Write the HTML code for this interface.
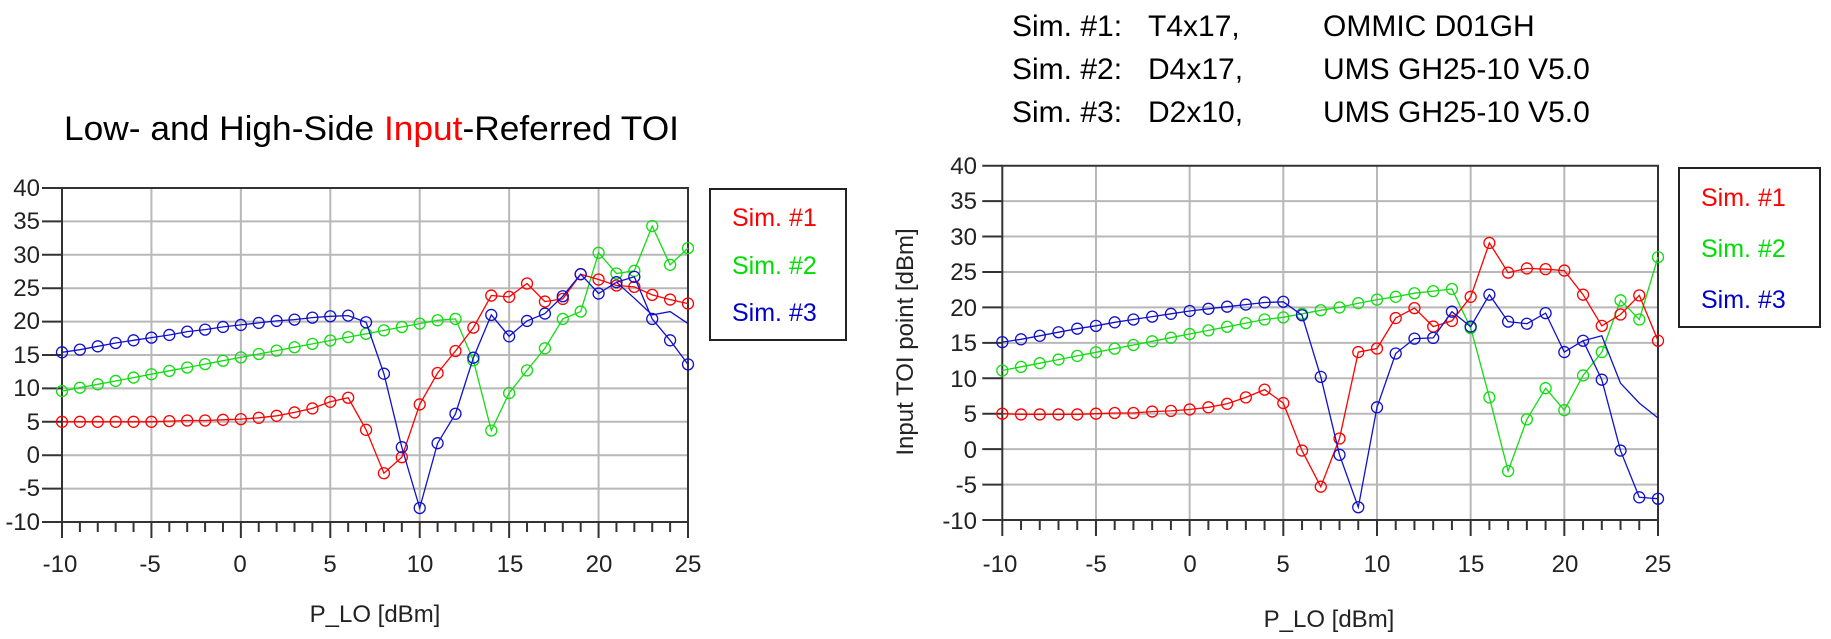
<!DOCTYPE html>
<html><head><meta charset="utf-8"><style>
html,body{margin:0;padding:0;background:#fff;}
svg{display:block;font-family:"Liberation Sans",Arial,sans-serif;}
</style></head><body>
<svg id="s" width="1831" height="639" viewBox="0 0 1831 639" xmlns="http://www.w3.org/2000/svg">
<rect width="1831" height="639" fill="#fff"/>
<g id="g"></g>
<text x="64" y="140" font-size="34" fill="#000" textLength="615" lengthAdjust="spacingAndGlyphs">Low- and High-Side <tspan fill="#f00">Input</tspan>-Referred TOI</text>
<g font-size="30" fill="#000">
<text x="1012" y="36">Sim. #1:</text><text x="1148" y="36">T4x17,</text><text x="1323" y="36">OMMIC D01GH</text>
<text x="1012" y="79">Sim. #2:</text><text x="1148" y="79">D4x17,</text><text x="1323" y="79">UMS GH25-10 V5.0</text>
<text x="1012" y="122">Sim. #3:</text><text x="1148" y="122">D2x10,</text><text x="1323" y="122">UMS GH25-10 V5.0</text>
</g>
<g font-size="24" fill="#222" text-anchor="end">
<text x="40" y="196">40</text><text x="40" y="229">35</text><text x="40" y="263">30</text><text x="40" y="296">25</text><text x="40" y="329">20</text><text x="40" y="363">15</text><text x="40" y="396">10</text><text x="40" y="430">5</text><text x="40" y="463">0</text><text x="40" y="496">-5</text><text x="40" y="530">-10</text>
<text x="977" y="174">40</text><text x="977" y="209">35</text><text x="977" y="245">30</text><text x="977" y="280">25</text><text x="977" y="316">20</text><text x="977" y="351">15</text><text x="977" y="387">10</text><text x="977" y="422">5</text><text x="977" y="458">0</text><text x="977" y="493">-5</text><text x="977" y="529">-10</text>
</g>
<g font-size="24" fill="#222" text-anchor="middle">
<text x="60" y="572">-10</text><text x="150" y="572">-5</text><text x="240" y="572">0</text><text x="330" y="572">5</text><text x="420" y="572">10</text><text x="510" y="572">15</text><text x="599" y="572">20</text><text x="688" y="572">25</text>
<text x="1000" y="572">-10</text><text x="1096" y="572">-5</text><text x="1190" y="572">0</text><text x="1283" y="572">5</text><text x="1377" y="572">10</text><text x="1471" y="572">15</text><text x="1565" y="572">20</text><text x="1658" y="572">25</text>
<text x="375" y="622">P_LO [dBm]</text>
<text x="1329" y="627">P_LO [dBm]</text>
<text transform="translate(913,342) rotate(-90)">Input TOI point [dBm]</text>
</g>
<rect x="710" y="189" width="136" height="151" fill="none" stroke="#222" stroke-width="2"/>
<rect x="1679" y="168" width="141" height="159" fill="none" stroke="#222" stroke-width="2"/>
<g font-size="25">
<text x="732" y="226" fill="#f00">Sim. #1</text><text x="732" y="274" fill="#0d0">Sim. #2</text><text x="732" y="321" fill="#00c">Sim. #3</text>
<text x="1701" y="206" fill="#f00">Sim. #1</text><text x="1701" y="257" fill="#0d0">Sim. #2</text><text x="1701" y="308" fill="#00c">Sim. #3</text>
</g>
</svg>
<script>
var NS="http://www.w3.org/2000/svg",G=document.getElementById("g");
function el(t,a){var e=document.createElementNS(NS,t);for(var k in a)e.setAttribute(k,a[k]);G.appendChild(e);return e;}
function chart(c){
 var X=function(v){return c.x0+(v+10)*(c.x1-c.x0)/35},Y=function(v){return c.y0+(40-v)*(c.y1-c.y0)/50};
 for(var v=-10;v<=40;v+=5){if(v>-10&&v<40)el("line",{x1:c.x0,x2:c.x1,y1:Y(v),y2:Y(v),stroke:"#b8b8b8","stroke-width":2});
  el("line",{x1:c.x0-20,x2:c.x0,y1:Y(v),y2:Y(v),stroke:"#333","stroke-width":2});}
 for(var u=-10;u<=25;u++){var maj=(u%5==0);
  if(maj&&u>-10&&u<25)el("line",{x1:X(u),x2:X(u),y1:c.y0,y2:c.y1,stroke:"#b8b8b8","stroke-width":2});
  el("line",{x1:X(u),x2:X(u),y1:c.y1,y2:c.y1+(maj?16:10),stroke:"#333","stroke-width":2});}
 el("path",{d:"M"+c.x0+","+c.y1+"V"+c.y0+"H"+c.x1+"V"+c.y1+"H"+c.x0,fill:"none",stroke:"#333","stroke-width":2});
 c.s.forEach(function(s){
  var p=s.d.map(function(v,i){return X(s.st+i).toFixed(1)+","+Y(v).toFixed(1)}).join(" ");
  el("polyline",{points:p,fill:"none",stroke:s.c,"stroke-width":1.3});
  if(!s.nm)s.d.forEach(function(v,i){el("circle",{cx:X(s.st+i),cy:Y(v),r:5.5,fill:"none",stroke:s.c,"stroke-width":1.3});});
 });
}
function lin(a,b,n){var r=[];for(var i=0;i<n;i++)r.push(a+(b-a)*i/(n-1));return r;}
var R="#f00",Gr="#1d1",B="#11c";
chart({x0:62,x1:688,y0:188,y1:522,s:[
 {c:Gr,st:-10,d:lin(9.6,20.2,22).concat([20.4,14.2,3.7,9.3,12.7,16,20.4,21.5,30.3,27.2,27.6,34.3,28.5,31])},
 {c:R,st:-10,d:[5,5,5,5,5,5,5.1,5.2,5.2,5.3,5.4,5.6,5.9,6.4,7,8,8.6,3.8,-2.7,-0.3,7.6,12.3,15.6,19.1,23.9,23.7,25.7,23,23.4,27.1,26.3,25.4,25.2,24,23.3,22.7]},
 {c:B,st:-10,d:[15.4,15.8,16.3,16.8,17.2,17.6,18,18.5,18.8,19.2,19.5,19.8,20.1,20.3,20.6,20.8,20.9,19.9,12.2,1.2,-7.9,1.8,6.2,14.6,21,17.8,20.1,21.2,23.8,27.1,24.2,25.9,26.7,20.4,17.2,13.6]},
 {c:B,st:21,nm:1,d:[25.9,23.5,21,21.5,19.7]}
]});
chart({x0:1002.3,x1:1658,y0:165.7,y1:520,s:[
 {c:Gr,st:-10,d:lin(11.1,18.3,15).concat([18.6,19.1,19.6,20,20.6,21.1,21.5,22,22.3,22.6,17.1,7.3,-3.1,4.2,8.6,5.5,10.4,13.7,21,18.3,27.1])},
 {c:R,st:-10,d:[5,4.9,4.9,4.9,4.9,5,5.1,5.1,5.3,5.4,5.6,5.9,6.4,7.3,8.4,6.5,-0.2,-5.3,1.5,13.7,14.2,18.5,19.9,17.3,18.1,21.5,29.1,24.9,25.5,25.4,25.2,21.8,17.4,19,21.7,15.3]},
 {c:B,st:-10,d:[15.1,15.5,16,16.5,17,17.4,17.9,18.3,18.7,19.1,19.5,19.8,20.1,20.4,20.7,20.8,18.9,10.2,-0.8,-8.2,5.9,13.5,15.6,15.7,19.4,17.3,21.8,18,17.7,19.2,13.7,15.3,9.8,-0.2,-6.8,-7]},
 {c:B,st:21,nm:1,d:[15.3,16,9.3,6.5,4.4]}
]});
</script>
</body></html>
